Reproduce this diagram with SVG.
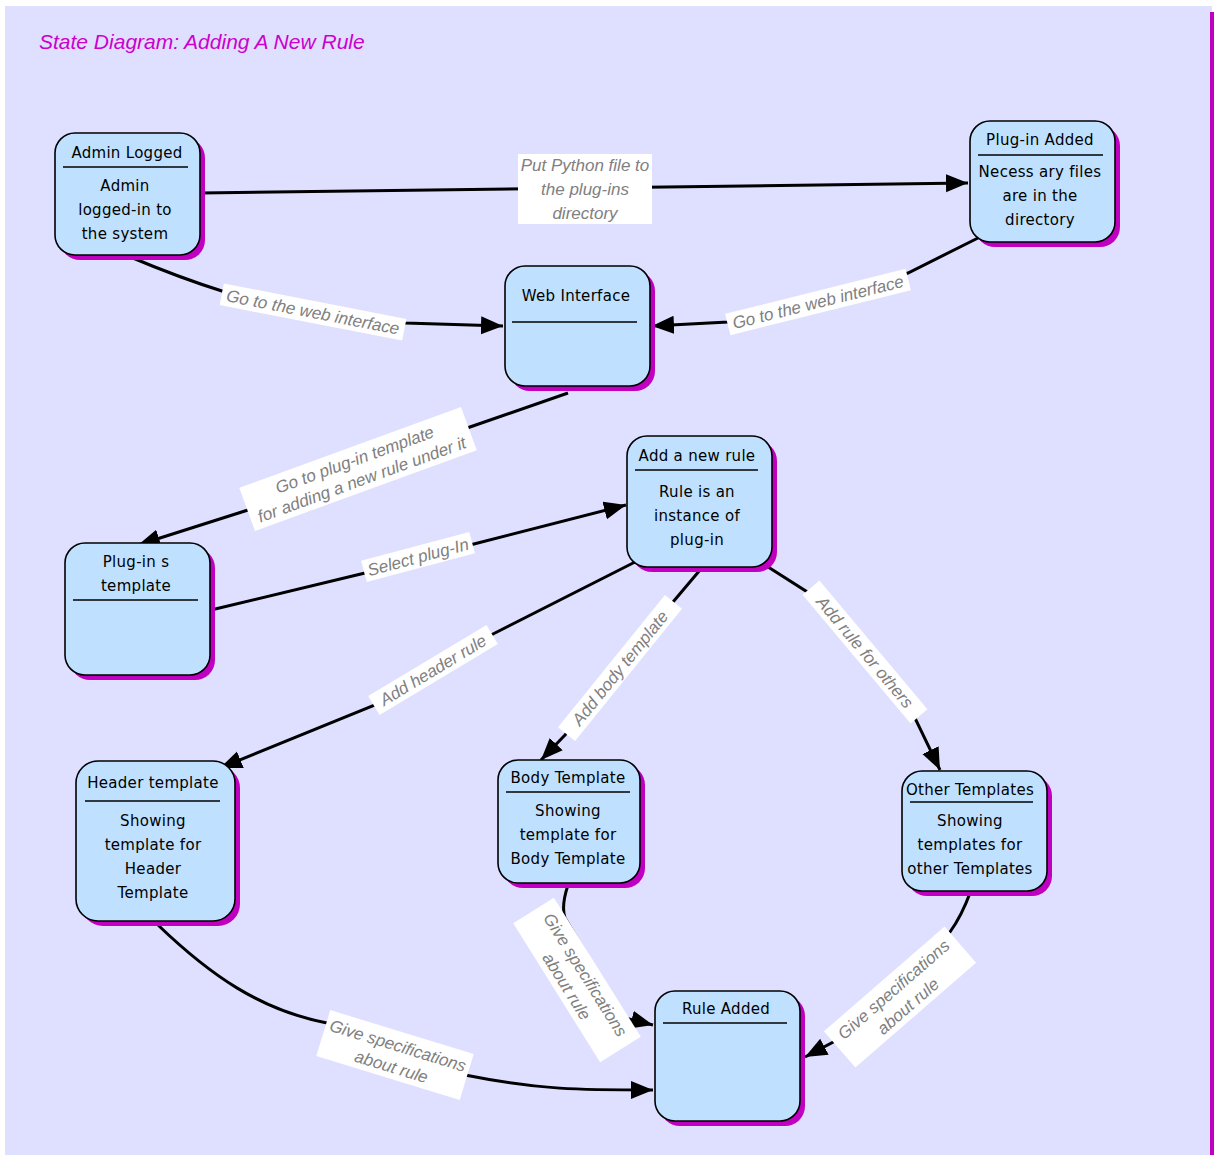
<svg xmlns="http://www.w3.org/2000/svg" width="1216" height="1155" viewBox="0 0 1216 1155">
<defs>
<style>
.bg{fill:#dfdfff}
.node{fill:#bfe0ff;stroke:#000;stroke-width:1.6}
.shadow{fill:#c000c0}
.sep{stroke:#000;stroke-width:1.5}
.nt{font-family:"DejaVu Sans",sans-serif;font-size:15px;fill:#000;text-anchor:middle;letter-spacing:0.3px}
.edge{fill:none;stroke:#000;stroke-width:3}
.lbox{fill:#fff}
.lt{font-family:"Liberation Sans",sans-serif;font-style:italic;font-size:17px;fill:#808080;text-anchor:middle}
.title{font-family:"Liberation Sans",sans-serif;font-style:italic;font-size:21px;fill:#cc00cc}
</style>
<marker id="arr" markerUnits="userSpaceOnUse" markerWidth="24" markerHeight="20" refX="22" refY="9" orient="auto">
<path d="M0,0 L22,9 L0,18 Z" fill="#000"/>
</marker>
</defs>
<rect x="0" y="0" width="1216" height="1155" fill="#fff"/>
<rect class="bg" x="5" y="6" width="1207" height="1149"/>
<rect x="1210" y="12" width="4" height="1143" fill="#c000c0"/>
<text class="title" x="39" y="49">State Diagram: Adding A New Rule</text>

<g id="connectors">
<path class="edge" d="M201,193 L968,183" marker-end="url(#arr)"/>
<path class="edge" d="M128,256 Q180,278 225,292 L405,323 L503,326" marker-end="url(#arr)"/>
<path class="edge" d="M978,238 L908,273 L728,322 L652,326" marker-end="url(#arr)"/>
<path class="edge" d="M568,393 L470,427 L248,510 L138,545" marker-end="url(#arr)"/>
<path class="edge" d="M211,610 L365,573 L470,545 L626,505" marker-end="url(#arr)"/>
<path class="edge" d="M635,562 L493,634 L375,705 L220,768" marker-end="url(#arr)"/>
<path class="edge" d="M700,570 L673,602 L565,735 L541,760" marker-end="url(#arr)"/>
<path class="edge" d="M765,565 L812,595 L915,718 L940,770" marker-end="url(#arr)"/>
<path class="edge" d="M158,925 C210,975 260,1010 327,1023 L465,1075 C540,1090 580,1090 653,1090" marker-end="url(#arr)"/>
<path class="edge" d="M568,885 C563,900 563,912 565,918 L625,1018 L653,1025" marker-end="url(#arr)"/>
<path class="edge" d="M970,893 C962,915 955,925 950,932 L837,1040 L805,1057" marker-end="url(#arr)"/>
</g>

<g id="labels">
<g transform="translate(585,189)"><rect class="lbox" x="-67" y="-35" width="134" height="70"/>
<text class="lt" y="-18">Put Python file to</text><text class="lt" y="6">the plug-ins</text><text class="lt" y="30">directory</text></g>
<g transform="translate(313,312) rotate(11)"><rect class="lbox" x="-93" y="-11" width="186" height="22"/>
<text class="lt" y="6">Go to the web interface</text></g>
<g transform="translate(818,302) rotate(-14)"><rect class="lbox" x="-93" y="-11" width="186" height="22"/>
<text class="lt" y="6">Go to the web interface</text></g>
<g transform="translate(358,469) rotate(-20)"><rect class="lbox" x="-118" y="-23" width="236" height="46"/>
<text class="lt" y="-4">Go to plug-in template</text><text class="lt" y="17">for adding a new rule under it</text></g>
<g transform="translate(418,557) rotate(-15)"><rect class="lbox" x="-56" y="-11" width="112" height="22"/>
<text class="lt" y="6">Select plug-In</text></g>
<g transform="translate(433,670) rotate(-31)"><rect class="lbox" x="-69" y="-11" width="138" height="22"/>
<text class="lt" y="6">Add header rule</text></g>
<g transform="translate(620,668) rotate(-51)"><rect class="lbox" x="-85" y="-11" width="170" height="22"/>
<text class="lt" y="6">Add body template</text></g>
<g transform="translate(865,652) rotate(50)"><rect class="lbox" x="-84" y="-11" width="168" height="22"/>
<text class="lt" y="6">Add rule for others</text></g>
<g transform="translate(395,1055) rotate(17)"><rect class="lbox" x="-75" y="-24" width="150" height="48"/>
<text class="lt" y="-4">Give specifications</text><text class="lt" y="18">about rule</text></g>
<g transform="translate(577,980) rotate(58)"><rect class="lbox" x="-82" y="-24" width="164" height="48"/>
<text class="lt" y="-4">Give specifications</text><text class="lt" y="18">about rule</text></g>
<g transform="translate(900,997) rotate(-41)"><rect class="lbox" x="-80" y="-24" width="160" height="48"/>
<text class="lt" y="-4">Give specifications</text><text class="lt" y="18">about rule</text></g>
</g>

<g id="admin-logged">
<rect class="shadow" x="60" y="138" width="145" height="122" rx="20"/>
<rect class="node" x="55" y="133" width="145" height="122" rx="20"/>
<line class="sep" x1="63" y1="167" x2="188" y2="167"/>
<text class="nt" x="127" y="158">Admin Logged</text>
<text class="nt" x="125" y="191">Admin</text><text class="nt" x="125" y="215">logged-in to</text><text class="nt" x="125" y="239">the system</text>
</g>

<g id="plugin-added">
<rect class="shadow" x="975" y="126" width="145" height="121" rx="20"/>
<rect class="node" x="970" y="121" width="145" height="121" rx="20"/>
<line class="sep" x1="978" y1="155" x2="1103" y2="155"/>
<text class="nt" x="1040" y="145">Plug-in Added</text>
<text class="nt" x="1040" y="177">Necess ary files</text><text class="nt" x="1040" y="201">are in the</text><text class="nt" x="1040" y="225">directory</text>
</g>

<g id="web-interface">
<rect class="shadow" x="510" y="271" width="145" height="120" rx="20"/>
<rect class="node" x="505" y="266" width="145" height="120" rx="20"/>
<line class="sep" x1="512" y1="322" x2="637" y2="322"/>
<text class="nt" x="576" y="301">Web Interface</text>
</g>

<g id="add-new-rule">
<rect class="shadow" x="632" y="441" width="145" height="131" rx="20"/>
<rect class="node" x="627" y="436" width="145" height="131" rx="20"/>
<line class="sep" x1="635" y1="470" x2="758" y2="470"/>
<text class="nt" x="697" y="461">Add a new rule</text>
<text class="nt" x="697" y="497">Rule is an</text><text class="nt" x="697" y="521">instance of</text><text class="nt" x="697" y="545">plug-in</text>
</g>

<g id="plugins-template">
<rect class="shadow" x="70" y="548" width="145" height="132" rx="20"/>
<rect class="node" x="65" y="543" width="145" height="132" rx="20"/>
<line class="sep" x1="73" y1="600" x2="198" y2="600"/>
<text class="nt" x="136" y="567">Plug-in s</text><text class="nt" x="136" y="591">template</text>
</g>

<g id="header-template">
<rect class="shadow" x="81" y="766" width="159" height="160" rx="22"/>
<rect class="node" x="76" y="761" width="159" height="160" rx="22"/>
<line class="sep" x1="85" y1="801" x2="220" y2="801"/>
<text class="nt" x="153" y="788">Header template</text>
<text class="nt" x="153" y="826">Showing</text><text class="nt" x="153" y="850">template for</text><text class="nt" x="153" y="874">Header</text><text class="nt" x="153" y="898">Template</text>
</g>

<g id="body-template">
<rect class="shadow" x="503" y="765" width="142" height="123" rx="20"/>
<rect class="node" x="498" y="760" width="142" height="123" rx="20"/>
<line class="sep" x1="506" y1="792" x2="630" y2="792"/>
<text class="nt" x="568" y="783">Body Template</text>
<text class="nt" x="568" y="816">Showing</text><text class="nt" x="568" y="840">template for</text><text class="nt" x="568" y="864">Body Template</text>
</g>

<g id="other-templates">
<rect class="shadow" x="907" y="776" width="145" height="120" rx="20"/>
<rect class="node" x="902" y="771" width="145" height="120" rx="20"/>
<line class="sep" x1="910" y1="802" x2="1033" y2="802"/>
<text class="nt" x="970" y="795">Other Templates</text>
<text class="nt" x="970" y="826">Showing</text><text class="nt" x="970" y="850">templates for</text><text class="nt" x="970" y="874">other Templates</text>
</g>

<g id="rule-added">
<rect class="shadow" x="660" y="996" width="145" height="130" rx="20"/>
<rect class="node" x="655" y="991" width="145" height="130" rx="20"/>
<line class="sep" x1="663" y1="1023" x2="787" y2="1023"/>
<text class="nt" x="726" y="1014">Rule Added</text>
</g>
</svg>
